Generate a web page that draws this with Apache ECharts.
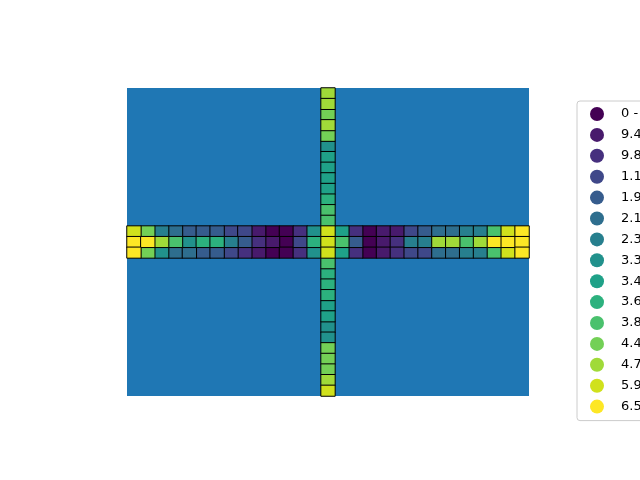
<!DOCTYPE html>
<html>
<head>
<meta charset="utf-8">
<script src="https://cdn.jsdelivr.net/npm/echarts@6/dist/echarts.min.js"></script>
<style>html,body{margin:0;padding:0;background:#fff;}#c{width:640px;height:480px;}</style>
</head>
<body>
<div id="c"></div>
<script>
// Grid is 29 x 29 cells; the cross occupies middle column 14 and middle rows 13-15.
var nCols = 29;
var nRows = 29;
var centerCol = 14;
var stripRowStart = 13;

// Class labels (quantile bins)
var classLabels = [
  "0 - 9.4e-05", "9.4e-05 - 9.8e-05", "9.8e-05 - 1.1e-04", "1.1e-04 - 1.9e-04",
  "1.9e-04 - 2.1e-04", "2.1e-04 - 2.3e-04", "2.3e-04 - 3.3e-04", "3.3e-04 - 3.4e-04",
  "3.4e-04 - 3.6e-04", "3.6e-04 - 3.8e-04", "3.8e-04 - 4.4e-04", "4.4e-04 - 4.7e-04",
  "4.7e-04 - 5.9e-04", "5.9e-04 - 6.5e-04", "6.5e-04 - 7.0e-04"
];
// viridis palette, 15 classes
var classColors = [
  "#440154", "#481a6c", "#46307e", "#3f4889", "#365c8d", "#2e6e8e", "#277f8e",
  "#21918c", "#1fa188", "#2cb17e", "#4ac16d", "#73d056", "#a0da39", "#d0e11c", "#fde725"
];

// Horizontal strip: class index per column (3 rows)
var stripRow1 = [13,11,6,5,4,4,4,3,3,1,0,0,2,7,13,8,2,0,1,1,3,4,5,5,6,6,10,13,14];
var stripRow2 = [14,14,12,10,7,9,9,6,4,2,1,0,3,9,13,10,4,0,1,2,6,6,12,12,10,12,14,14,14];
var stripRow3 = [14,11,7,5,5,4,4,3,2,1,0,0,2,7,13,8,2,0,1,2,3,3,5,5,6,6,10,13,14];
// Vertical column: class index per row above and below the strip
var columnTop = [12,12,11,12,11,7,8,8,8,8,9,10,10];
var columnBottom = [10,9,9,9,8,8,7,7,11,11,11,12,13];

var cells = []; // [col, row, classIndex]
[stripRow1, stripRow2, stripRow3].forEach(function (row, r) {
  row.forEach(function (k, c) { cells.push([c, stripRowStart + r, k]); });
});
columnTop.forEach(function (k, r) { cells.push([centerCol, r, k]); });
columnBottom.forEach(function (k, r) { cells.push([centerCol, stripRowStart + 3 + r, k]); });

var cats = function (n) { var a = []; for (var i = 0; i < n; i++) a.push(String(i)); return a; };

var series = classLabels.map(function (name, k) {
  return {
    type: 'heatmap',
    name: name,
    data: cells.filter(function (d) { return d[2] === k; }),
    itemStyle: { color: classColors[k], borderColor: '#000000', borderWidth: 1 },
    emphasis: { disabled: true },
    label: { show: false }
  };
});

var chart = echarts.init(document.getElementById('c'), null, { renderer: 'canvas' });
chart.setOption({
  animation: false,
  backgroundColor: '#ffffff',
  color: classColors,
  grid: { left: 127, top: 88, width: 402, height: 308, show: true, backgroundColor: '#1f77b4', borderWidth: 0 },
  xAxis: { type: 'category', data: cats(nCols), show: false, boundaryGap: true },
  yAxis: { type: 'category', data: cats(nRows), show: false, inverse: true, boundaryGap: true },
  legend: {
    orient: 'vertical',
    left: 577,
    top: 101,
    icon: 'circle',
    itemWidth: 14,
    itemHeight: 14,
    itemGap: 6.9,
    padding: [6, 8, 7, 13],
    borderColor: '#cccccc',
    borderWidth: 1,
    borderRadius: 3,
    backgroundColor: '#ffffff',
    selectedMode: false,
    itemStyle: { borderWidth: 0 },
    textStyle: { fontFamily: 'DejaVu Sans', fontSize: 13, color: '#000000', padding: [0, 0, 0, 12] },
    data: classLabels
  },
  series: series
});
</script>
</body>
</html>
